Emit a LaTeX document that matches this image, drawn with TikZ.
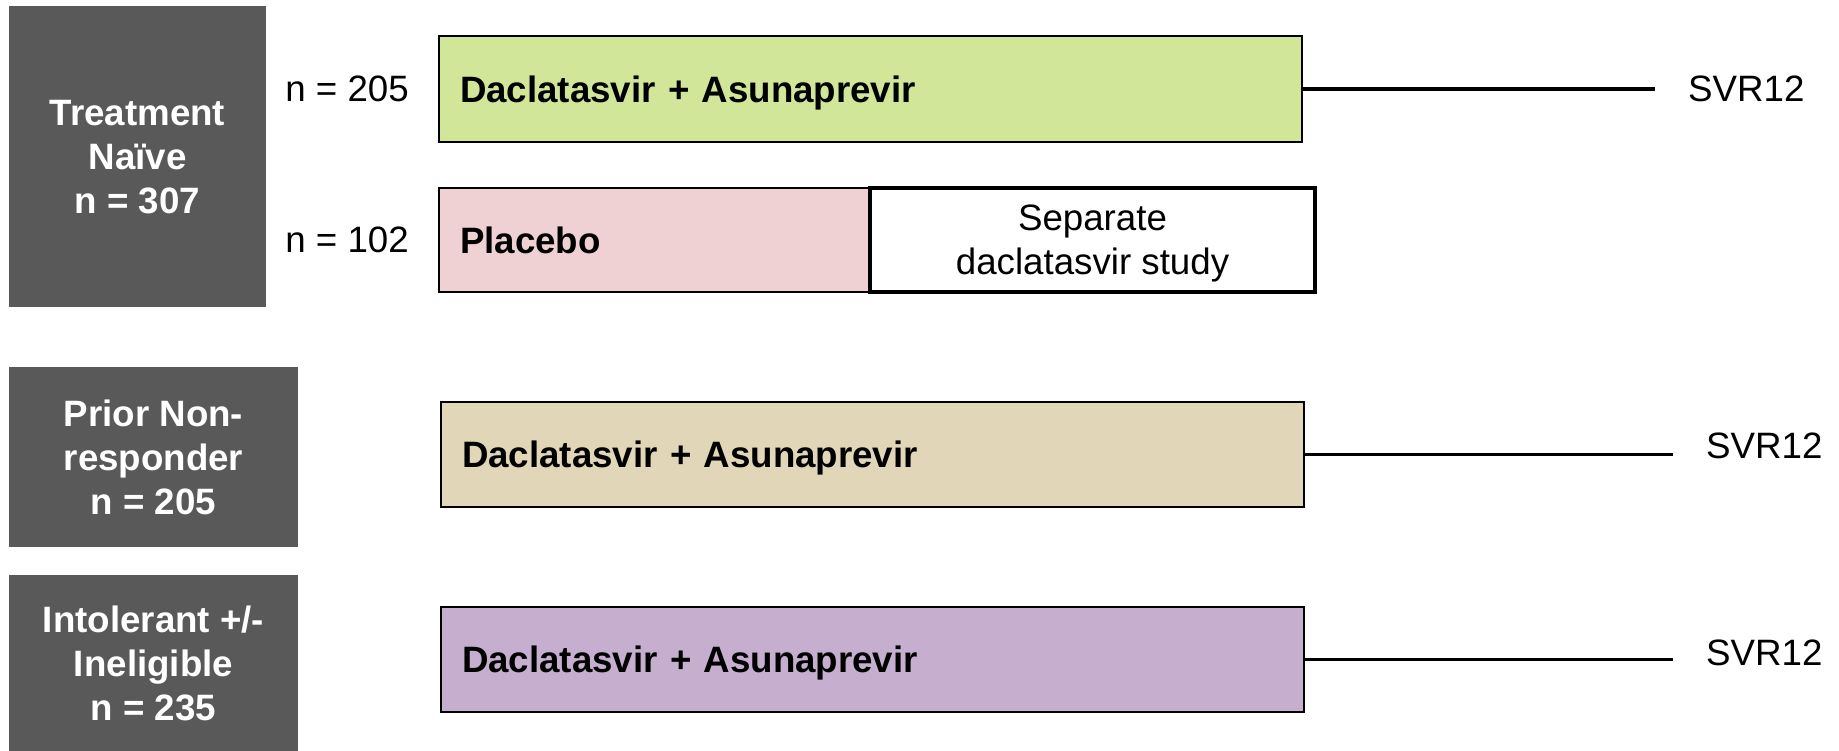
\documentclass[tikz,border=0pt]{standalone}
\usepackage{fontspec}
\setmainfont{Liberation Sans}
\usetikzlibrary{positioning}

\definecolor{groupgray}{HTML}{595959}
\definecolor{armgreen}{HTML}{D2E69A}
\definecolor{armpink}{HTML}{F0D1D3}
\definecolor{armbeige}{HTML}{E2D6B9}
\definecolor{armpurple}{HTML}{C5AECE}

\newcommand{\bigtxt}{\fontsize{36.7pt}{44pt}\selectfont}

\begin{document}
\begin{tikzpicture}[x=1pt, y=-1pt,
	every node/.style={font=\bigtxt},
	group/.style={fill=groupgray, text=white, font=\bigtxt\bfseries, align=center, inner sep=0pt, outer sep=0pt, anchor=north west, text depth=-4pt},
	arm/.style={draw=black, line width=2.5pt, anchor=north west, outer sep=0pt, inner xsep=21pt, inner ysep=0pt, align=left, font=\bigtxt\bfseries, text depth=0pt},
	sidebox/.style={draw=black, fill=white, line width=4.5pt, outer sep=0pt, inner sep=0pt, align=center, text depth=-1pt},
	nlab/.style={inner sep=0pt},
	svr/.style={inner xsep=33pt, inner ysep=0pt, anchor=west},
	link/.style={line width=3.5pt}]
	
		\useasboundingbox (0,0) rectangle (1839,751);
		
		% patient groups
		\node[group, minimum width=257pt, minimum height=301pt] (naive) at (9,6) {Treatment\\Naïve\\n = 307};
		\node[group, minimum width=289pt, minimum height=180pt] (nonresp) at (9,367) {Prior Non-\\responder\\n = 205};
		\node[group, minimum width=289pt, minimum height=176pt] (intol) at (9,575) {Intolerant +/-\\Ineligible\\n = 235};
		
		% treatment arms
		\node[arm, fill=armgreen, text width=821pt, minimum height=106pt] (armA) at (439,36) {Daclatasvir + Asunaprevir};
		\node[arm, fill=armpink, text width=389pt, minimum height=104pt] (placebo) at (439,188) {Placebo};
		\node[sidebox, right=0pt of placebo, minimum width=445pt, minimum height=104pt] (sepstudy) {Separate\\daclatasvir study};
		\node[arm, fill=armbeige, text width=821pt, minimum height=105pt] (armB) at (441,402) {Daclatasvir + Asunaprevir};
		\node[arm, fill=armpurple, text width=821pt, minimum height=105pt] (armC) at (441,607) {Daclatasvir + Asunaprevir};
		
		\node[nlab, left=30pt of armA] (nA) {n = 205};
		\node[nlab, left=30pt of placebo] (nP) {n = 102};
		
		% follow-up
		\node[svr] (svrA) at (1655,89) {SVR12};
		\node[svr] (svrB) at (1673,446) {SVR12};
		\node[svr] (svrC) at (1673,653) {SVR12};
		
		\draw[link] (armA.east) -- (armA.east -| svrA.west);
		\draw[link] (armB.east) -- (armB.east -| svrB.west);
		\draw[link] (armC.east) -- (armC.east -| svrC.west);
		
	\end{tikzpicture}
\end{document}
